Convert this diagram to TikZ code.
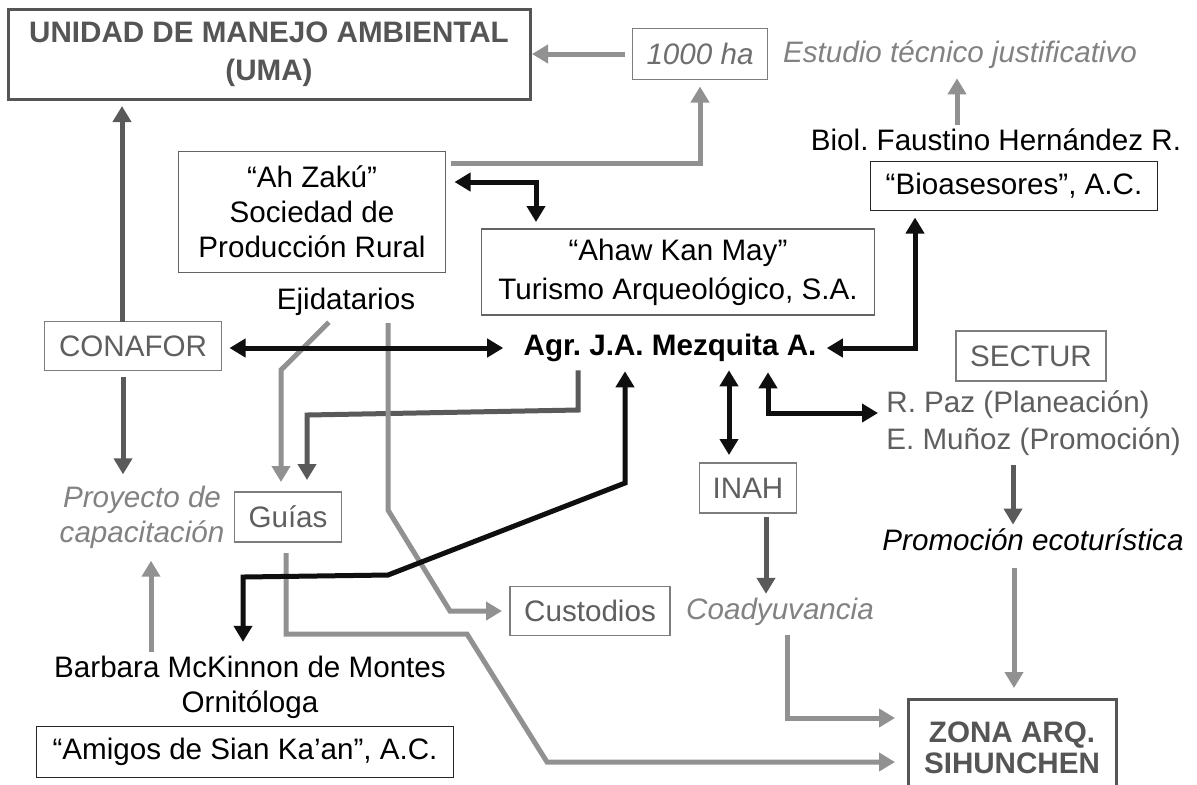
\documentclass[tikz,border=0pt]{standalone}
\usepackage{fontspec}
\setmainfont{Liberation Sans}
\usepackage{tikz}
\usetikzlibrary{arrows.meta,positioning}
\frenchspacing
\definecolor{umagray}{RGB}{85,85,85}
\definecolor{boxgray}{RGB}{125,125,125}
\definecolor{orggray}{RGB}{95,95,95}
\definecolor{notegray}{RGB}{130,130,130}
\definecolor{linelight}{RGB}{145,145,145}
\definecolor{linedark}{RGB}{90,90,90}
\definecolor{lineblack}{RGB}{15,15,15}
\newcommand{\figfont}[1]{\fontsize{14.8}{#1}\selectfont}
\tikzset{
  headblock/.style={rectangle,draw=umagray,line width=1.5pt,text=umagray,
    align=center,inner sep=0pt,outer sep=0pt},
  orgblock/.style={rectangle,draw=boxgray,line width=0.9pt,text=orggray,
    align=center,inner sep=0pt,outer sep=0pt,font=\figfont{17.5}},
  acblock/.style={rectangle,draw=black!85,line width=0.9pt,
    align=center,inner sep=0pt,outer sep=0pt,font=\figfont{17.5}},
  person/.style={align=center,inner sep=2pt,font=\figfont{17.5}},
  note/.style={align=center,inner sep=2pt,text=notegray,
    font=\figfont{17.5}\itshape},
  lightarrow/.style={-{Triangle[length=8pt,width=9pt]},line width=2.5pt,
    color=linelight},
  darkarrow/.style={-{Triangle[length=8pt,width=9pt]},line width=2.5pt,
    color=linedark},
  blackarrow/.style={{Triangle[length=8pt,width=9pt]}-{Triangle[length=8pt,width=9pt]},
    line width=2.5pt,color=lineblack}
}

\begin{document}
\begin{tikzpicture}[x=0.5pt,y=-0.5pt]
  \useasboundingbox (0,0) rectangle (1197,784);
  \fill[white] (0,0) rectangle (1197,784);

  % Boxes and labels
  \node[headblock,font=\figfont{19}\bfseries,minimum width=261pt,minimum height=45pt]
    (uma) at (269,54) {UNIDAD DE MANEJO AMBIENTAL\\(UMA)};
  \node[orgblock,text=notegray!85!black,font=\figfont{17.5}\itshape,
    minimum width=67.5pt,minimum height=25.5pt] (ha) at (700,54) {1000 ha};
  \node[note] (estudio) at (960,55) {Estudio técnico justificativo};
  \node[person] (biol) at (996,140) {Biol. Faustino Hernández R.};
  \node[acblock,minimum width=143.5pt,minimum height=24.5pt]
    (bio) at (1014,186) {“Bioasesores”, A.C.};
  \node[orgblock,draw=boxgray!80!black,text=black,minimum width=133.5pt,minimum height=60.5pt]
    (zaku) at (312,212) {“Ah Zakú”\\Sociedad de\\Producción Rural};
  \node[orgblock,draw=boxgray!80!black,text=black,font=\figfont{19.5},
    minimum width=196.5pt,minimum height=43pt]
    (ahaw) at (678,272) {“Ahaw Kan May”\\Turismo Arqueológico, S.A.};
  \node[person] (ejid) at (346,302) {Ejidatarios};
  \node[orgblock,minimum width=88.5pt,minimum height=24.5pt]
    (conafor) at (133,346) {CONAFOR};
  \node[person,font=\figfont{17.5}\bfseries] (agr) at (670,348) {Agr. J.A. Mezquita A.};
  \node[orgblock,minimum width=75pt,minimum height=25pt]
    (sectur) at (1031,356) {SECTUR};
  \node[person,align=left,anchor=west,text=orggray,font=\figfont{18.5}]
    (rpaz) at (882,423.5) {R. Paz (Planeación)\\E. Muñoz (Promoción)};
  \node[orgblock,minimum width=48.5pt,minimum height=25pt]
    (inah) at (748,488) {INAH};
  \node[note] (proy) at (142,517) {Proyecto de\\capacitación};
  \node[orgblock,minimum width=53.5pt,minimum height=25pt]
    (guias) at (288,517) {Guías};
  \node[note,text=black] (promo) at (1033,540) {Promoción ecoturística};
  \node[orgblock,minimum width=80pt,minimum height=24.5pt]
    (custodios) at (590,611) {Custodios};
  \node[note] (coad) at (780,612) {Coadyuvancia};
  \node[person] (barbara) at (250,687.5) {Barbara McKinnon de Montes\\Ornitóloga};
  \node[acblock,minimum width=208.5pt,minimum height=25.5pt]
    (amigos) at (245,752) {“Amigos de Sian Ka'an”, A.C.};
  \node[headblock,font=\figfont{15.5}\bfseries,minimum width=104pt,minimum height=48.5pt]
    (zona) at (1012,747.5) {ZONA ARQ.\\SIHUNCHEN};

  % Gray flows
  \draw[lightarrow,shorten <=4pt,shorten >=1pt] (ha.west) -- (uma.east);
  \draw[lightarrow,shorten <=2.5pt,shorten >=3.5pt] (zaku.east |- 0,163) -| (ha.south);
  \draw[lightarrow,shorten >=2.5pt] (biol.north -| 957,0) -- (estudio.south -| 957,0);
  \draw[darkarrow,shorten >=3.5pt] (conafor.north -| 122,0) -- (uma.south -| 122,0);
  \draw[darkarrow,shorten <=3pt,shorten >=3.5pt] (conafor.south -| 123,0) -- (proy.north -| 123,0);
  \draw[lightarrow,shorten <=1.5pt,shorten >=5pt] (ejid.south -| 331,0) -- (281,370)
    -- (guias.north -| 281,0);
  \draw[darkarrow,shorten <=2pt,shorten >=6pt] (agr.south -| 578,0) -- (578,410)
    -- (307,415) -- (guias.north -| 307,0);
  \draw[lightarrow,shorten <=1.5pt,shorten >=4pt] (ejid.south -| 388,0) -- (388,510)
    -- (450,611) -- (custodios.west);
  \draw[lightarrow,shorten <=5.5pt,shorten >=6.5pt] (guias.south -| 286,0) -- (286,634)
    -- (467,634) -- (547,762) -- (zona.west |- 0,762);
  \draw[lightarrow,shorten >=4pt] (barbara.north -| 151,0) -- (proy.south -| 151,0);
  \draw[darkarrow,shorten <=2.5pt] (rpaz.south -| 1013,0) -- (promo.north -| 1013,0);
  \draw[lightarrow,shorten <=6.5pt,shorten >=5.5pt] (promo.south -| 1014,0) -- (zona.north -| 1014,0);
  \draw[darkarrow,shorten <=2pt] (inah.south -| 766,0) -- (coad.north -| 766,0);
  \draw[lightarrow,shorten <=2.5pt,shorten >=6.5pt] (coad.south -| 787,0) |- (zona.west |- 0,718);

  % Black links
  \draw[blackarrow,shorten <=4.5pt,shorten >=3.5pt] (zaku.east |- 0,182) -- (536,182)
    -- (ahaw.north -| 536,0);
  \draw[blackarrow,shorten <=4pt,shorten >=8pt] (conafor.east |- agr.west) -- (agr.west);
  \draw[blackarrow,shorten <=3.5pt,shorten >=3pt] (bio.south -| 915,0) |- (agr.east);
  \draw[blackarrow,shorten <=2.5pt,shorten >=5pt] (agr.south -| 625,0) -- (625,483)
    -- (388,575) -- (243,577) -- (barbara.north -| 243,0);
  \draw[blackarrow,shorten <=2pt,shorten >=4pt] (agr.south -| 729,0) -- (inah.north -| 729,0);
  \draw[blackarrow,shorten <=3pt,shorten >=2pt] (agr.south -| 768,0) |- (rpaz.west |- 0,413);
\end{tikzpicture}
\end{document}
